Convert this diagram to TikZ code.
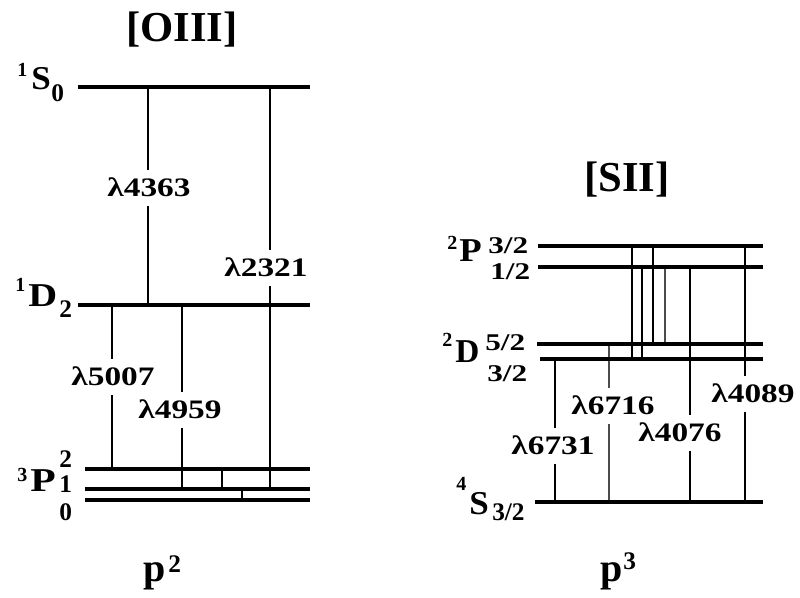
\documentclass[tikz,border=0pt]{standalone}
\usepackage{fontspec}
\setmainfont{Liberation Serif}
\newcommand\wide[2]{\scalebox{#1}[1]{#2}}
\begin{document}
\begin{tikzpicture}[x=0.75pt,y=-0.75pt,
  lev/.style={line width=2.4pt},
  levthick/.style={line width=3.4pt},
  tr/.style={line width=0.8pt},
  trb/.style={line width=1.5pt},
  trg/.style={line width=1.6pt, draw=black!70},
  lam/.style={fill=white, inner xsep=1pt, inner ysep=7pt, text height=13.5pt, text depth=0pt,
    font=\fontsize{20}{20}\selectfont\bfseries},
  ttl/.style={anchor=base, inner sep=0pt, font=\fontsize{32}{32}\selectfont\bfseries},
  letter/.style={anchor=base west, inner sep=0pt, font=\fontsize{25}{25}\selectfont\bfseries},
  pre/.style={anchor=base west, inner sep=0pt, font=\fontsize{15}{15}\selectfont\bfseries},
  sub/.style={anchor=base west, inner sep=0pt, font=\fontsize{19}{19}\selectfont\bfseries},
  jval/.style={anchor=base west, inner sep=0pt, font=\fontsize{19}{19}\selectfont\bfseries},
  frac/.style={anchor=base west, inner sep=0pt, font=\fontsize{18}{18}\selectfont\bfseries},
  conf/.style={anchor=base west, inner sep=0pt, font=\fontsize{30}{30}\selectfont\bfseries},
  confsup/.style={anchor=base west, inner sep=0pt, font=\fontsize{19}{19}\selectfont\bfseries}
]
\useasboundingbox (0,0) rectangle (800,598);

% ---------------- [OIII] ----------------
\node[ttl] (tO) at (182,42) {[OIII]};

\coordinate (S0a) at (78,87);  \coordinate (S0b) at (310,87);
\coordinate (D2a) at (78,305); \coordinate (D2b) at (310,305);
\coordinate (P2a) at (85,469); \coordinate (P2b) at (310,469);
\coordinate (P1a) at (85,489); \coordinate (P1b) at (310,489);
\coordinate (P0a) at (85,500); \coordinate (P0b) at (310,500);

% transitions
\coordinate (u4363) at (148,87);  \coordinate (l4363) at (148,305);
\coordinate (u2321) at (270,87);  \coordinate (l2321) at (270,489);
\coordinate (u5007) at (112,305); \coordinate (l5007) at (112,469);
\coordinate (u4959) at (182,305); \coordinate (l4959) at (182,489);
\coordinate (m4959) at (182,469);
\coordinate (u21) at (222,469);   \coordinate (l21) at (222,489);
\coordinate (u10) at (242,489);   \coordinate (l10) at (242,500);

\draw[tr] (u4363) -- (l4363);
\draw[tr] (u2321) -- (l2321);
\draw[tr] (u5007) -- (l5007);
\draw[tr] (u4959) -- (l4959);
\draw[trb] (m4959) -- (l4959);
\draw[trb] (u21) -- (l21);
\draw[trb] (u10) -- (l10);

\draw[lev] (S0a) -- (S0b);
\draw[lev] (D2a) -- (D2b);
\draw[lev] (P2a) -- (P2b);
\draw[lev] (P1a) -- (P1b);
\draw[lev] (P0a) -- (P0b);

\node[lam] (n4363) at (149,188) {\wide{1.25}{λ4363}};
\node[lam] (n2321) at (266,268) {\wide{1.25}{λ2321}};
\node[lam] (n5007) at (113,377) {\wide{1.25}{λ5007}};
\node[lam] (n4959) at (180,410) {\wide{1.25}{λ4959}};

% level labels
\node[pre] (S0pre) at (17,77) {1};
\node[letter] (S0let) at (31,90) {\wide{1.05}{S}};
\node[sub] (S0sub) at (51,102) {0};
\node[pre] (D2pre) at (15,292) {1};
\node[letter] (D2let) at (28,307) {\wide{1.2}{D}};
\node[sub] (D2sub) at (59,318) {2};
\node[pre] (Ppre) at (17,482) {3};
\node[letter] (Plet) at (30,492) {\wide{1.25}{P}};
\node[jval] (J2) at (59,468) {2};
\node[jval] (J1) at (59,493) {1};
\node[jval] (J0) at (59,521) {0};

\node[conf] (pO) at (143,581) {p};
\node[confsup] (pOs) at (168,572) {2};

% ---------------- [SII] ----------------
\node[ttl] (tS) at (627,192) {[SII]};

\coordinate (Pth) at (538,246); \coordinate (Pthb) at (763,246);
\coordinate (Poh) at (538,267); \coordinate (Pohb) at (763,267);
\coordinate (Dfh) at (537,344); \coordinate (Dfhb) at (763,344);
\coordinate (Dth) at (540,359); \coordinate (Dthb) at (763,359);
\coordinate (Sg)  at (535,502); \coordinate (Sgb)  at (763,502);

\coordinate (ua) at (632,246); \coordinate (la) at (632,359);
\coordinate (ub) at (642,267); \coordinate (lb) at (642,359);
\coordinate (uc) at (653,246); \coordinate (lc) at (653,344);
\coordinate (ud) at (665,267); \coordinate (ld) at (665,344);
\coordinate (u4076) at (690,267); \coordinate (l4076) at (690,502);
\coordinate (u4089) at (745,246); \coordinate (l4089) at (745,502);
\coordinate (u6716) at (609,344); \coordinate (l6716) at (609,502);
\coordinate (u6731) at (555,359); \coordinate (l6731) at (555,502);

\draw[tr] (ua) -- (la);
\draw[trb] (ub) -- (lb);
\draw[trb] (uc) -- (lc);
\draw[trg] (ud) -- (ld);
\draw[trb] (u4076) -- (l4076);
\draw[trb] (u4089) -- (l4089);
\draw[trg] (u6716) -- (l6716);
\draw[trb] (u6731) -- (l6731);

\draw[lev] (Pth) -- (Pthb);
\draw[lev] (Poh) -- (Pohb);
\draw[lev] (Dfh) -- (Dfhb);
\draw[levthick] (Dth) -- (Dthb);
\draw[lev] (Sg) -- (Sgb);

\node[lam] (n6716) at (613,406) {\wide{1.25}{λ6716}};
\node[lam] (n6731) at (553,446) {\wide{1.25}{λ6731}};
\node[lam] (n4076) at (680,433) {\wide{1.25}{λ4076}};
\node[lam] (n4089) at (753,394) {\wide{1.25}{λ4089}};

\node[pre] (SPpre) at (447,250) {2};
\node[letter] (SPlet) at (459,262) {\wide{1.1}{P}};
\node[frac] (SP32) at (488,254) {\wide{1.3}{3/2}};
\node[frac] (SP12) at (490,280) {\wide{1.3}{1/2}};
\node[pre] (SDpre) at (442,347) {2};
\node[letter] (SDlet) at (455,363) {D};
\node[frac] (SD52) at (485,351) {\wide{1.3}{5/2}};
\node[frac] (SD32) at (487,382) {\wide{1.3}{3/2}};
\node[pre] (SSpre) at (456,490) {4};
\node[letter] (SSlet) at (469,514) {\wide{1.05}{S}};
\node[sub] (SSsub) at (492,520) {3/2};

\node[conf] (pS) at (600,581) {p};
\node[confsup] (pSs) at (623,570) {3};
\end{tikzpicture}
\end{document}
